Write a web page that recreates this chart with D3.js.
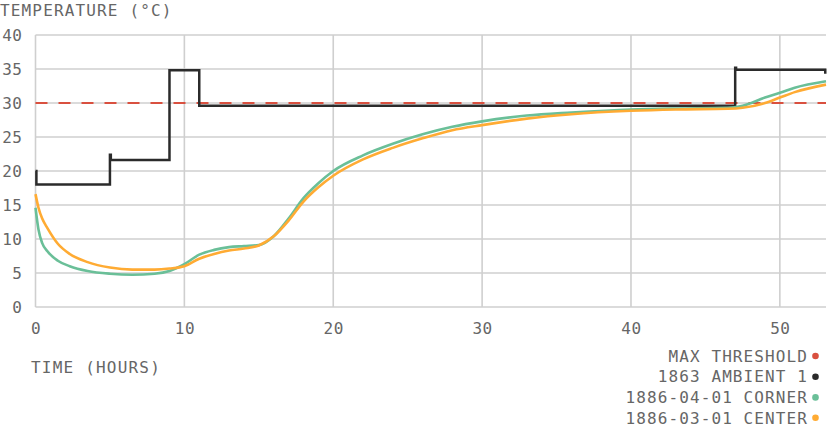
<!DOCTYPE html>
<html>
<head>
<meta charset="utf-8">
<script src="https://cdn.jsdelivr.net/npm/d3@7"></script>
<style>
  body { margin: 0; background: #fff; }
  text { font-family: "DejaVu Sans Mono", monospace; fill: #666; }
</style>
</head>
<body>
<svg id="chart"></svg>
<script>
// hours since start
const hours = [0, 0.2, 0.45, 0.8, 1.5, 2.3, 3.5, 5, 6.5, 8, 9, 10, 11, 12, 13, 14, 15, 16, 17, 18, 19, 20,
  22, 24, 26, 28, 30, 33, 36, 40, 43, 46.5, 47.5, 49, 50, 51, 53.1];

const cornerTemps = [14.6, 11.4, 9.4, 8.2, 6.8, 6.0, 5.3, 4.9, 4.75, 4.9, 5.3, 6.3, 7.7, 8.4, 8.8, 8.95, 9.1,
  10.4, 13.0, 16.0, 18.2, 20.0, 22.3, 24.0, 25.4, 26.5, 27.3, 28.15, 28.6, 29.05, 29.2, 29.3, 29.6,
  30.8, 31.5, 32.25, 33.2];

const centerTemps = [16.6, 14.6, 13.0, 11.6, 9.3, 7.8, 6.6, 5.8, 5.5, 5.5, 5.65, 6.0, 7.1, 7.8, 8.3, 8.6, 9.05,
  10.4, 12.7, 15.5, 17.6, 19.3, 21.7, 23.4, 24.8, 26.0, 26.75, 27.7, 28.35, 28.85, 29.05, 29.15, 29.3,
  30.0, 30.8, 31.6, 32.7];

// ambient set points (step after)
const ambientHours = [0, 0.06, 5, 5.06, 9, 11, 47, 47.06, 53.05];
const ambientTemps = [20, 18, 22.4, 21.6, 34.8, 29.6, 35.2, 34.9, 34.3];

const maxThreshold = 30;

const yTicks = [0, 5, 10, 15, 20, 25, 30, 35, 40];
const xTicks = [0, 10, 20, 30, 40, 50];

const legendLabels = ["MAX THRESHOLD", "1863 AMBIENT 1", "1886-04-01 CORNER", "1886-03-01 CENTER"];
const legendColors = ["#d9503f", "#2b2b2b", "#6abf98", "#ffab33"];

const width = 828, height = 427;
const margin = { top: 35, right: 2, bottom: 120, left: 35.5 };
const innerW = width - margin.left - margin.right;
const innerH = height - margin.top - margin.bottom;

const svg = d3.select("#chart").attr("width", width).attr("height", height);

const x = d3.scaleLinear().domain([0, 53.1]).range([margin.left, margin.left + innerW]);
const y = d3.scaleLinear().domain([0, 40]).range([margin.top + innerH, margin.top]);

// grid
const grid = svg.append("g").attr("stroke", "#cfcfcf").attr("stroke-width", 1.6);
grid.selectAll(".hg").data(yTicks).join("line")
  .attr("x1", x(0)).attr("x2", x.range()[1])
  .attr("y1", d => y(d)).attr("y2", d => y(d));
grid.selectAll(".vg").data(xTicks).join("line")
  .attr("x1", d => x(d)).attr("x2", d => x(d))
  .attr("y1", y(0)).attr("y2", y(40));

// axes (labels only)
const yAxis = svg.append("g")
  .attr("transform", `translate(${margin.left - 13},0)`)
  .call(d3.axisLeft(y).tickValues(yTicks).tickSize(0).tickPadding(0));
yAxis.select(".domain").remove();

const xAxis = svg.append("g")
  .attr("transform", `translate(0,${y(0) + 16})`)
  .call(d3.axisBottom(x).tickValues(xTicks).tickSize(0).tickPadding(0));
xAxis.select(".domain").remove();

svg.selectAll(".tick text")
  .style("font-family", "'DejaVu Sans Mono', monospace")
  .style("font-size", "16px")
  .style("letter-spacing", "0.5px")
  .attr("fill", "#666");
yAxis.selectAll(".tick text").attr("dy", "0.36em");

// threshold
svg.append("line")
  .attr("x1", x(0)).attr("x2", x.range()[1])
  .attr("y1", y(maxThreshold)).attr("y2", y(maxThreshold))
  .attr("stroke", legendColors[0])
  .attr("stroke-width", 2.2)
  .attr("stroke-dasharray", "12,11");

// ambient
const ambientLine = d3.line()
  .x((d, i) => x(ambientHours[i]))
  .y(d => y(d))
  .curve(d3.curveStepAfter);

svg.append("path")
  .datum(ambientTemps)
  .attr("d", ambientLine)
  .attr("fill", "none")
  .attr("stroke", legendColors[1])
  .attr("stroke-width", 2.5);

// probe curves
const probeLine = d3.line()
  .x((d, i) => x(hours[i]))
  .y(d => y(d))
  .curve(d3.curveMonotoneX);

svg.append("path")
  .datum(cornerTemps)
  .attr("d", probeLine)
  .attr("fill", "none")
  .attr("stroke", legendColors[2])
  .attr("stroke-width", 2.6);

svg.append("path")
  .datum(centerTemps)
  .attr("d", probeLine)
  .attr("fill", "none")
  .attr("stroke", legendColors[3])
  .attr("stroke-width", 2.6);

// titles
svg.append("text")
  .attr("x", 0).attr("y", 16)
  .style("font-size", "16px")
  .style("letter-spacing", "1.15px")
  .text("TEMPERATURE (°C)");

svg.append("text")
  .attr("x", 31).attr("y", 373)
  .style("font-size", "16px")
  .style("letter-spacing", "1.2px")
  .text("TIME (HOURS)");

// legend
const legendY = [356, 376.7, 397.4, 417.8];
const legend = svg.append("g");
legend.selectAll("text").data(legendLabels).join("text")
  .attr("x", 808)
  .attr("y", (d, i) => legendY[i])
  .attr("dy", "0.36em")
  .attr("text-anchor", "end")
  .style("font-size", "16px")
  .style("letter-spacing", "1.1px")
  .text(d => d);
legend.selectAll("circle").data(legendColors).join("circle")
  .attr("cx", 815.5)
  .attr("cy", (d, i) => legendY[i])
  .attr("r", 3.3)
  .attr("fill", d => d);
</script>
</body>
</html>
